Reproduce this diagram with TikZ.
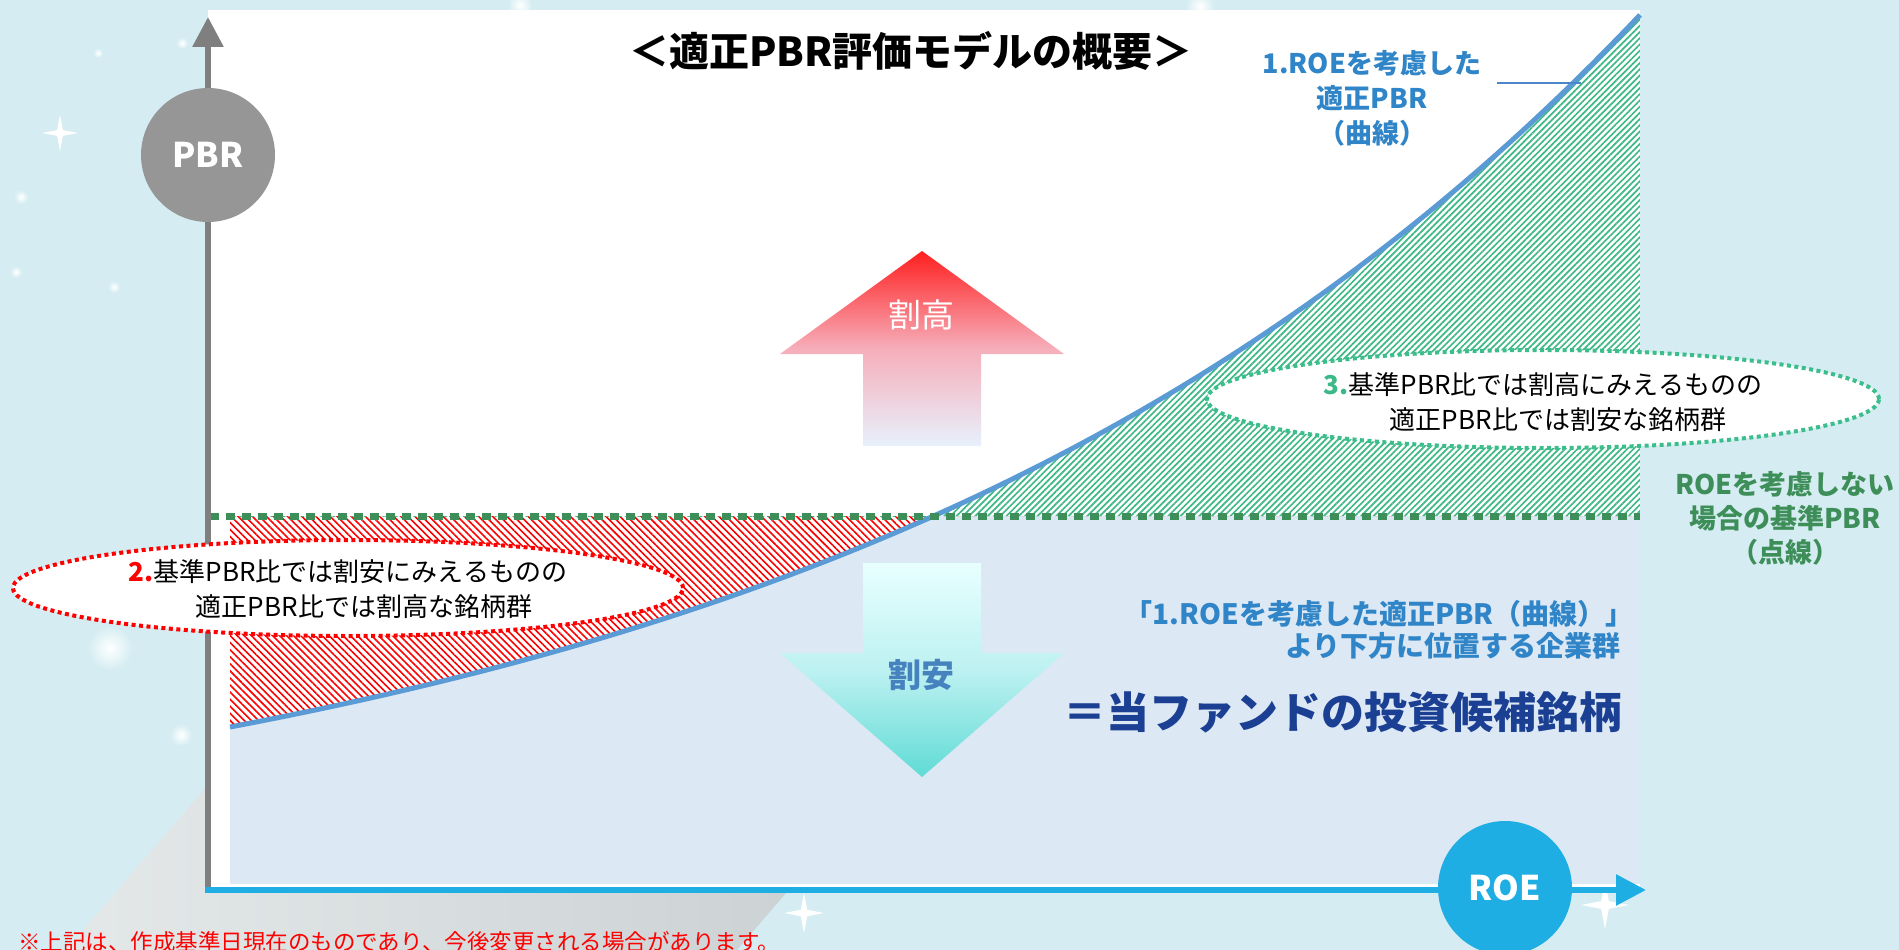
\documentclass[tikz,border=0pt]{standalone}
\usepackage{fontspec}
\setmainfont{Noto Sans CJK JP}
\usetikzlibrary{arrows.meta,patterns.meta,shapes.geometric}
\definecolor{bg}{HTML}{D5EDF2}
\definecolor{plotblue}{HTML}{DCE8F4}
\definecolor{curveblue}{HTML}{5B9BD5}
\definecolor{leadblue}{HTML}{4A86C8}
\definecolor{axisgray}{HTML}{7F7F7F}
\definecolor{circgray}{HTML}{969696}
\definecolor{roeblue}{HTML}{1FAEE3}
\definecolor{dashgreen}{HTML}{3E8E5A}
\definecolor{hatchgreen}{HTML}{3DB887}
\definecolor{dotgreen}{HTML}{3CBE8C}
\definecolor{labelblue}{HTML}{2F85C7}
\definecolor{navy}{HTML}{1B3F93}
\definecolor{anzen}{HTML}{4682BE}
\definecolor{upTop}{HTML}{FF1F1F}
\definecolor{upMid}{HTML}{F6AEBA}
\definecolor{upBot}{HTML}{E7F1FC}
\definecolor{dnTop}{HTML}{E8FFFF}
\definecolor{dnMid}{HTML}{BDF1F1}
\definecolor{dnBot}{HTML}{5FDBD5}
\definecolor{slabL}{HTML}{E4E8E9}
\definecolor{slabR}{HTML}{C8CFD1}
\tikzset{
  txt/.style={inner sep=0pt},
  ellbox/.style={ellipse, fill=white, line width=4pt, dash pattern=on 4pt off 3.5pt, inner sep=0pt},
  axiscircle/.style={circle, minimum size=134pt, inner sep=0pt, text=white, font=\bfseries\fontsize{34}{36}\selectfont},
}
\begin{document}
\begin{tikzpicture}[x=1pt,y=-1pt]
\useasboundingbox (0,0) rectangle (1899,950);
\fill[bg] (0,0) rectangle (1899,950);
% background slab
\shade[left color=slabL, right color=slabR] (66,950) -- (251,735) -- (922,735) -- (737,950) -- cycle;
% blurred dots
\foreach \px/\py/\r in {110/648/22, 181/735/11, 98/53/5, 182/43/6, 21/197/7, 16/272/6, 114/287/6, 1200/6/14, 520/5/12}
  \shade[inner color=white, outer color=bg] (\px,\py) circle (\r);
% sparkles
\foreach \px/\py/\s in {60/133/18, 1605/905/24, 804/913/20}
  \fill[white, shift={(\px,\py)}, scale=\s] (0,-1) -- (0.16,-0.16) -- (1,0) -- (0.16,0.16) -- (0,1) -- (-0.16,0.16) -- (-1,0) -- (-0.16,-0.16) -- cycle;
% plot area
\fill[white] (208,10) rectangle (1640,888);
\fill[plotblue] (230,516) rectangle (1640,884);
% red hatch
\begin{scope}
\clip (230,516) rectangle (1640,884);
\fill[white] (230,516) -- plot[domain=0:1410,samples=120] ({230+\x},{727-155.1*(exp(0.001218*\x)-1)}) -- (1640,516) -- cycle;
\fill[pattern={Lines[angle=-45,distance=5pt,line width=1.6pt]}, pattern color=red] (230,516) -- plot[domain=0:1410,samples=120] ({230+\x},{727-155.1*(exp(0.001218*\x)-1)}) -- (1640,516) -- cycle;
\end{scope}
% green hatch
\begin{scope}
\clip (230,0) rectangle (1640,516);
\fill[pattern={Lines[angle=45,distance=4.4pt,line width=1.7pt]}, pattern color=hatchgreen] (230,516) -- plot[domain=0:1410,samples=120] ({230+\x},{727-155.1*(exp(0.001218*\x)-1)}) -- (1640,516) -- cycle;
\end{scope}
% curve
\draw[curveblue, line width=5pt] plot[domain=0:1410,samples=120] ({230+\x},{727-155.1*(exp(0.001218*\x)-1)});
% dashed base line
\coordinate (dl) at (210,516);
\coordinate (dr) at (1640,516);
\draw[dashgreen, line width=7pt, dash pattern=on 9pt off 7pt] (dl) -- (dr);
% axes
\coordinate (ybot) at (208,893);
\coordinate (ytip) at (208,17);
\coordinate (xstart) at (205,890);
\coordinate (xtip) at (1646,890);
\draw[axisgray, line width=6pt, -{Triangle[length=30pt,width=30pt]}] (ybot) -- (ytip);
\draw[roeblue, line width=6pt, -{Triangle[length=30pt,width=30pt]}] (xstart) -- (xtip);
\node[axiscircle, fill=circgray] (pbr) at (208,155) {PBR};
\node[axiscircle, fill=roeblue] (roe) at (1505,888) {ROE};
% leader line
\coordinate (lead1) at (1497,83);
\coordinate (lead2) at (1581,83);
\draw[leadblue, line width=1.5pt] (lead1) -- (lead2);
% arrows
\shade[top color=upTop, bottom color=upBot, middle color=upMid] (922,251) -- (1064,354) -- (981,354) -- (981,446) -- (863,446) -- (863,354) -- (780,354) -- cycle;
\shade[top color=dnTop, bottom color=dnBot, middle color=dnMid] (863,563) -- (981,563) -- (981,653) -- (1064,653) -- (922,777) -- (780,653) -- (863,653) -- cycle;
\node[txt, text=white, font=\fontsize{33}{36}\selectfont] (upt) at (921,315) {割高};
\node[txt, text=anzen, font=\bfseries\fontsize{33}{36}\selectfont] (dnt) at (921,675) {割安};
% ellipses
\node[ellbox, draw=red, minimum width=670pt, minimum height=96pt] (e2) at (348,588) {};
\node[ellbox, draw=dotgreen, minimum width=672pt, minimum height=98pt] (e3) at (1543,399) {};
\node[txt, font=\fontsize{26}{30}\selectfont] (t2a) at (348,572) {\textcolor{red}{\bfseries 2.}基準PBR比では割安にみえるものの};
\node[txt, font=\fontsize{26}{30}\selectfont] (t2b) at (364,607) {適正PBR比では割高な銘柄群};
\node[txt, font=\fontsize{26}{30}\selectfont] (t3a) at (1543,385) {\textcolor{hatchgreen}{\bfseries 3.}基準PBR比では割高にみえるものの};
\node[txt, font=\fontsize{26}{30}\selectfont] (t3b) at (1558,420) {適正PBR比では割安な銘柄群};
% title
\node[txt, font=\bfseries\fontsize{40}{44}\selectfont] (title) at (911,51) {＜適正PBR評価モデルの概要＞};
% labels
\node[txt, align=center, text=labelblue, font=\bfseries\fontsize{27}{35}\selectfont] (lbl1) at (1372,98) {1.ROEを考慮した\\適正PBR\\（曲線）};
\node[txt, align=center, text=dashgreen, font=\bfseries\fontsize{27}{34}\selectfont] (lbl0) at (1785,518) {ROEを考慮しない\\場合の基準PBR\\（点線）};
\node[txt, anchor=east, text=labelblue, font=\bfseries\fontsize{28}{32}\selectfont] (b1) at (1634,614) {「1.ROEを考慮した適正PBR（曲線）」};
\node[txt, anchor=east, text=labelblue, font=\bfseries\fontsize{28}{32}\selectfont] (b2) at (1621,646) {より下方に位置する企業群};
\node[txt, anchor=east, text=navy, font=\bfseries\fontsize{43}{48}\selectfont] (fund) at (1623,712) {＝当ファンドの投資候補銘柄};
% footnote
\node[txt, anchor=west, text=red, font=\fontsize{22.5}{25}\selectfont] (note) at (18,942) {※上記は、作成基準日現在のものであり、今後変更される場合があります。};
\end{tikzpicture}
\end{document}
